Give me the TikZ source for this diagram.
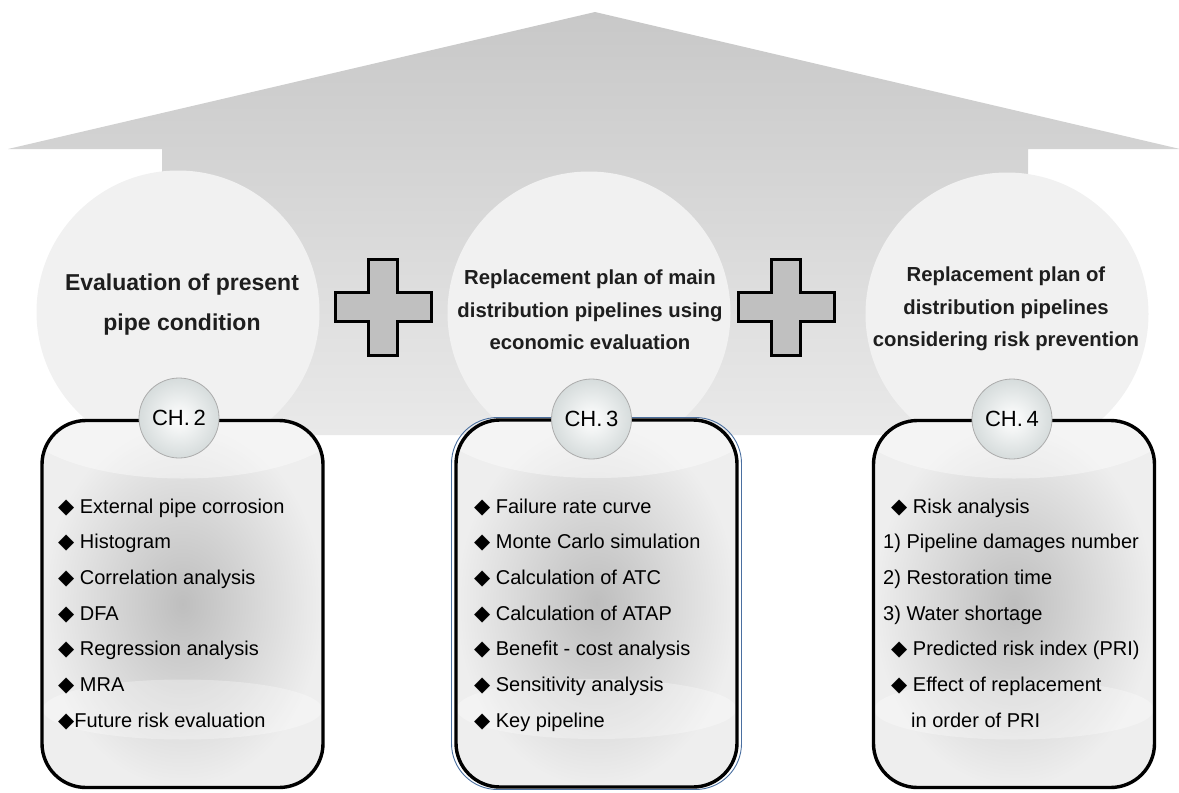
\documentclass[tikz,border=0pt]{standalone}
\usepackage{fontspec}
\setmainfont{Liberation Sans}
\newfontfamily\symfont{DejaVu Sans}
\usetikzlibrary{positioning}

\definecolor{roofdark}{HTML}{C8C8C8}
\definecolor{rooflight}{HTML}{E9E9E9}
\definecolor{circfill}{HTML}{F1F1F1}
\definecolor{boxdark}{HTML}{BEBEBE}
\definecolor{boxlight}{HTML}{EEEEEE}
\definecolor{plusfill}{HTML}{C0C0C0}
\definecolor{badgeedge}{HTML}{D6DCDC}
\definecolor{rimblue}{HTML}{4A6FA0}
\definecolor{inktext}{HTML}{1E1E1E}

\newcommand\dia{{\symfont\fontsize{21}{24}\selectfont ◆}}

\tikzset{
  topic/.style={circle, fill=circfill, minimum size=283pt, inner sep=0pt},
  title/.style={align=center, text=inktext, inner sep=0pt,
    font=\bfseries\fontsize{20.3}{32.5}\selectfont},
  chbox/.style={draw=black, line width=3.4pt, rounded corners=44pt,
    minimum width=281pt, minimum height=367pt,
    inner color=boxdark, outer color=boxlight,
    path picture={
      \fill[white, opacity=.4] ([yshift=4pt]path picture bounding box.north) ellipse (165pt and 62pt);
      \fill[white, opacity=.3] ([yshift=78pt]path picture bounding box.south) ellipse (140pt and 30pt);
    }},
  badge/.style={circle, draw=gray!65, line width=.8pt, minimum size=80pt, inner sep=0pt,
    inner color=white, outer color=badgeedge, text=black,
    font=\fontsize{22}{22}\selectfont},
  item/.style={anchor=base west, inner sep=0pt, text=black,
    font=\fontsize{20}{24}\selectfont},
  plus/.style={draw=black, line width=3pt, fill=plusfill, line join=miter}
}

\begin{document}
\begin{tikzpicture}[x=1pt, y=-1pt]
  \useasboundingbox (0,0) rectangle (1179,793);

  % roof and house body
  \shade[top color=roofdark, bottom color=rooflight]
    (8,149) -- (595,12) -- (1180,149) -- (1028,149) -- (1028,435)
    -- (162,435) -- (162,149) -- cycle;

  % the three topics
  \node[topic] (c2) at (178,312) {};
  \node[topic] (c3) at (589,313) {};
  \node[topic] (c4) at (1007,314) {};

  \node[title, font=\bfseries\fontsize{23}{40}\selectfont] (t2) at (182,305)
    {Evaluation of present\\pipe condition};
  \node[title] (t3) at (590,310)
    {Replacement plan of main\\distribution pipelines using\\economic evaluation};
  \node[title] (t4) at (1006,309)
    {Replacement plan of\\distribution pipelines\\considering risk prevention};

  % plus signs
  \foreach \cx/\cy in {383/307, 786/307}
    \draw[plus] (\cx-14.5,\cy-48) -- (\cx+14.5,\cy-48) -- (\cx+14.5,\cy-14.5)
      -- (\cx+48,\cy-14.5) -- (\cx+48,\cy+14.5) -- (\cx+14.5,\cy+14.5)
      -- (\cx+14.5,\cy+48) -- (\cx-14.5,\cy+48) -- (\cx-14.5,\cy+14.5)
      -- (\cx-48,\cy+14.5) -- (\cx-48,\cy-14.5) -- (\cx-14.5,\cy-14.5) -- cycle;

  % chapter boxes
  \draw[rimblue, line width=.9pt, rounded corners=46pt]
    (454-2.5,420-2.5) rectangle (739+2.5,787+2.5);
  \node[chbox] (b2) at (182.5,604) {};
  \node[chbox] (b3) at (596.5,603.5) {};
  \node[chbox] (b4) at (1014,604) {};

  \node[badge] (h2) at (179,418) {CH.\,2};
  \node[badge] (h3) at (591.5,419) {CH.\,3};
  \node[badge] (h4) at (1012,419) {CH.\,4};

  % items
  \foreach \t [count=\i] in {{\dia\ External pipe corrosion}, {\dia\ Histogram},
      {\dia\ Correlation analysis}, {\dia\ DFA}, {\dia\ Regression analysis},
      {\dia\ MRA}, {\dia Future risk evaluation}}
    \node[item] (l\i) at (58,513+35.7*\i-35.7) {\t};

  \foreach \t [count=\i] in {{\dia\ Failure rate curve}, {\dia\ Monte Carlo simulation},
      {\dia\ Calculation of ATC}, {\dia\ Calculation of ATAP},
      {\dia\ Benefit - cost analysis}, {\dia\ Sensitivity analysis},
      {\dia\ Key pipeline}}
    \node[item] (m\i) at (474,513+35.7*\i-35.7) {\t};

  \foreach \x/\t [count=\i] in {891/{\dia\ Risk analysis}, 883/{1) Pipeline damages number},
      883/{2) Restoration time}, 883/{3) Water shortage},
      891/{\dia\ Predicted risk index (PRI)}, 891/{\dia\ Effect of replacement},
      911/{in order of PRI}}
    \node[item] (r\i) at (\x,513+35.7*\i-35.7) {\t};
\end{tikzpicture}
\end{document}
